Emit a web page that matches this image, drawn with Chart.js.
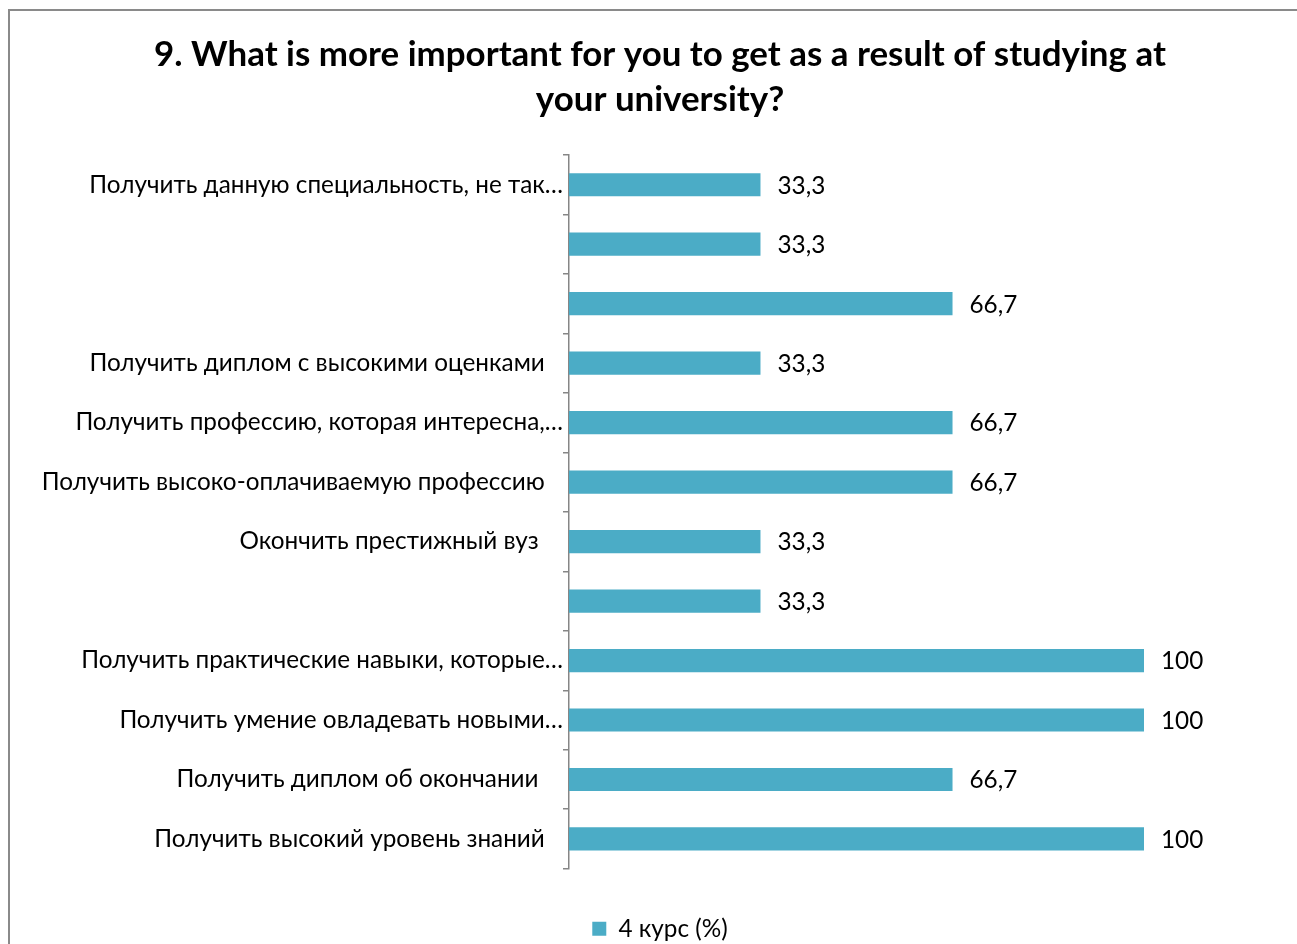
<!DOCTYPE html>
<html>
<head>
<meta charset="utf-8">
<script src="https://cdn.jsdelivr.net/npm/chart.js@4.4.1/dist/chart.umd.min.js"></script>
<style>
  html, body { margin: 0; padding: 0; background: #fff; }
  #wrap { position: relative; width: 1297px; height: 944px; }
</style>
</head>
<body>
<div id="wrap"><canvas id="c" width="1297" height="944"></canvas></div>
<script>
const titleLines = [
  '9. What is more important for you to get as a result of studying at',
  'your university?'
];
const categories = [
  'Получить данную специальность, не так…',
  '',
  '',
  'Получить диплом с высокими оценками',
  'Получить профессию, которая интересна,…',
  'Получить высоко-оплачиваемую профессию',
  'Окончить престижный вуз ',
  '',
  'Получить практические навыки, которые…',
  'Получить умение овладевать новыми…',
  'Получить диплом об окончании ',
  'Получить высокий уровень знаний'
];
const seriesName = '4 курс (%)';
const values = [33.3, 33.3, 66.7, 33.3, 66.7, 66.7, 33.3, 33.3, 100, 100, 66.7, 100];

const FAMILY = "Lato, 'Open Sans', 'DejaVu Sans', sans-serif";
const BAR = '#4BACC6';
const AXIS = '#868686';

const mctx = document.createElement('canvas').getContext('2d');
function fit(text, weight, target) {
  mctx.font = weight + ' 100px ' + FAMILY;
  return Math.round(100 * target / mctx.measureText(text).width * 10) / 10;
}
const labelSize = fit('Получить высоко-оплачиваемую профессию', 'normal', 503);
const titleSize = fit(titleLines[0], 'bold', 1012);

const fmt = v => String(v).replace('.', ',');

const frame = {
  id: 'frame',
  beforeDraw(chart) {
    const c = chart.ctx;
    c.save();
    c.fillStyle = '#fff';
    c.fillRect(0, 0, chart.width, chart.height);
    c.strokeStyle = '#8a8a8a';
    c.lineWidth = 2;
    c.beginPath();
    c.moveTo(9, chart.height + 5);
    c.lineTo(9, 10);
    c.lineTo(chart.width + 5, 10);
    c.stroke();
    c.restore();
  }
};

const valueLabels = {
  id: 'valueLabels',
  afterDatasetsDraw(chart) {
    const c = chart.ctx;
    const meta = chart.getDatasetMeta(0);
    c.save();
    c.fillStyle = '#000';
    c.font = labelSize + 'px ' + FAMILY;
    c.textAlign = 'left';
    c.textBaseline = 'middle';
    meta.data.forEach((bar, i) => {
      c.fillText(fmt(chart.data.datasets[0].data[i]), bar.x + 17, bar.y + 1);
    });
    c.restore();
  }
};

new Chart(document.getElementById('c'), {
  type: 'bar',
  data: {
    labels: categories,
    datasets: [{
      label: seriesName,
      data: values,
      backgroundColor: BAR,
      borderWidth: 0,
      categoryPercentage: 1,
      barPercentage: 0.39
    }]
  },
  options: {
    indexAxis: 'y',
    responsive: false,
    animation: false,
    devicePixelRatio: 1,
    layout: { padding: { left: 23, right: 0, top: 0, bottom: -7 } },
    plugins: {
      title: {
        display: true,
        text: titleLines,
        color: '#000',
        font: { family: FAMILY, size: titleSize, weight: 'bold', lineHeight: 45 / titleSize },
        padding: { top: 32, bottom: 33 }
      },
      legend: {
        display: true,
        position: 'bottom',
        labels: {
          color: '#000',
          font: { family: FAMILY, size: labelSize },
          boxWidth: 14,
          boxHeight: 14,
          padding: 2,
          useBorderRadius: false
        }
      },
      tooltip: { enabled: false }
    },
    scales: {
      x: {
        display: true,
        position: 'bottom',
        min: 0,
        max: 100 * (1297 - 569) / (1144 - 569),
        grid: { display: false },
        border: { display: false },
        ticks: { display: false },
        afterFit(scale) { scale.height = 46; }
      },
      y: {
        afterFit(scale) { scale.width = 569 - 23; },
        border: { display: true, color: AXIS, width: 1.5 },
        grid: {
          offset: true,
          drawOnChartArea: false,
          drawTicks: true,
          tickLength: 6,
          color: AXIS,
          lineWidth: 1.5
        },
        ticks: {
          color: '#000',
          padding: 0,
          autoSkip: false,
          font: { family: FAMILY, size: labelSize },
          callback(value) {
            const s = this.getLabelForValue(value);
            if (!s) return '';
            return s.endsWith('…') ? s : s + '\u2003';
          }
        }
      }
    }
  },
  plugins: [frame, valueLabels]
});
</script>
</body>
</html>
